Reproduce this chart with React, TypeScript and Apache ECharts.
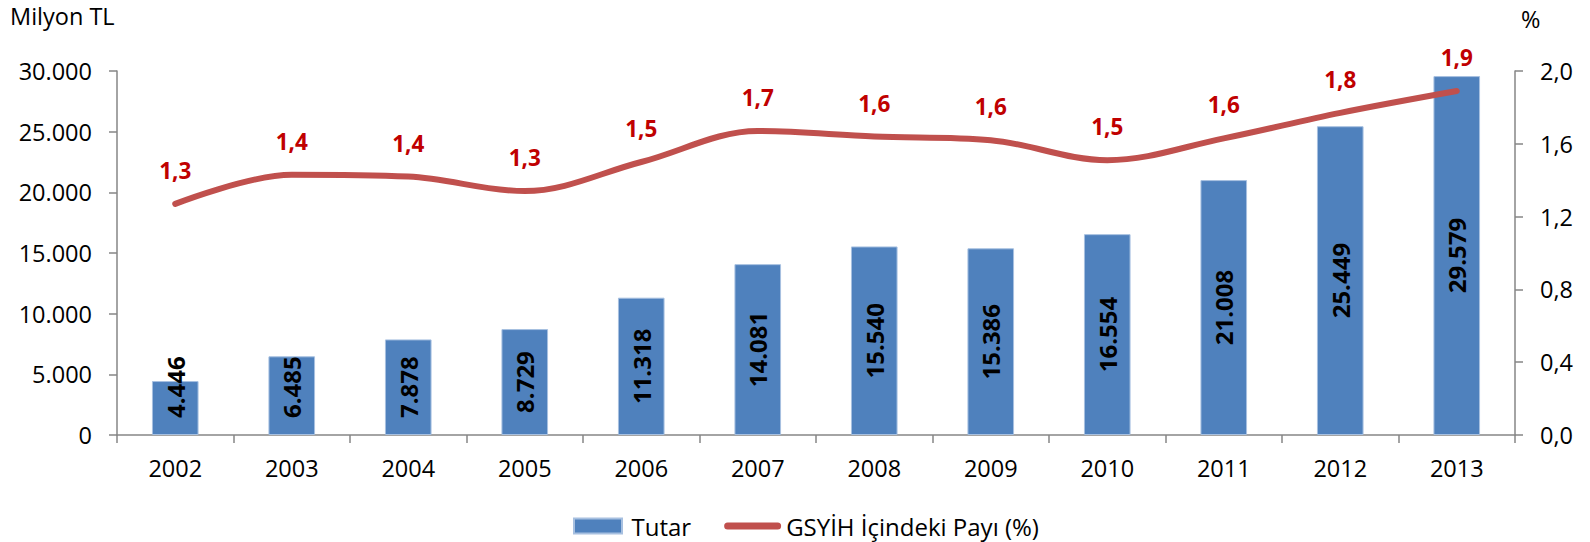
import React, { useEffect, useRef } from "react";
import * as echarts from "echarts";

const years = ["2002", "2003", "2004", "2005", "2006", "2007", "2008", "2009", "2010", "2011", "2012", "2013"];
const tutar = [4446, 6485, 7878, 8729, 11318, 14081, 15540, 15386, 16554, 21008, 25449, 29579];
const pay = [1.27, 1.43, 1.42, 1.34, 1.5, 1.67, 1.64, 1.62, 1.51, 1.63, 1.77, 1.89];

const FONT = "'Open Sans', 'Noto Sans', sans-serif";
const Y_MAX = 30000;
const PLOT_H = 364;
const LABEL_LEN = 66;
const BASE_GAP = 17;

const fmtThousands = (v: number) => String(Math.round(v)).replace(/\B(?=(\d{3})+(?!\d))/g, ".");
const fmtPct = (v: number) => v.toFixed(1).replace(".", ",");

export default function App() {
  const ref = useRef<HTMLDivElement>(null);
  useEffect(() => {
    if (!ref.current) return;
    const chart = echarts.init(ref.current, null, { renderer: "svg" });
    const axisColor = "#868686";
    const barData = tutar.map((v) => {
      const h = (v / Y_MAX) * PLOT_H;
      if (h / 2 < LABEL_LEN / 2 + BASE_GAP) {
        return {
          value: v,
          label: { position: "insideBottom", distance: BASE_GAP, align: "left", verticalAlign: "middle" },
        };
      }
      return { value: v };
    });
    chart.setOption({
      animation: false,
      backgroundColor: "#ffffff",
      textStyle: { fontFamily: FONT },
      grid: { left: 117, right: 75, top: 71, bottom: 107, containLabel: false },
      legend: {
        left: 568,
        top: 509,
        itemWidth: 57,
        itemHeight: 15,
        itemGap: 33,
        textStyle: { fontFamily: FONT, fontSize: 24, color: "#000" },
        data: [
          { name: "Tutar", icon: "path://M0,0 L48,0 L48,15 L0,15 Z" },
          {
            name: "GSYİH İçindeki Payı (%)",
            icon: "path://M3.5,0 L53.5,0 A3.5,3.5 0 0 1 53.5,7 L3.5,7 A3.5,3.5 0 0 1 3.5,0 Z",
            itemStyle: { color: "#C0504D" },
          },
        ],
      },
      graphic: [
        { type: "text", left: 10, top: 4, style: { text: "Milyon TL", font: `23.5px ${FONT}`, fill: "#000" } },
        { type: "text", left: 1521, top: 7, style: { text: "%", font: `23.5px ${FONT}`, fill: "#000" } },
      ],
      xAxis: {
        type: "category",
        data: years,
        boundaryGap: true,
        axisLine: { lineStyle: { color: axisColor, width: 1.5 } },
        axisTick: { show: true, alignWithLabel: false, interval: 0, length: 8, lineStyle: { color: axisColor, width: 1.5 } },
        axisLabel: { color: "#000", fontSize: 23.5, fontFamily: FONT, margin: 21, interval: 0 },
      },
      yAxis: [
        {
          type: "value",
          min: 0,
          max: Y_MAX,
          interval: 5000,
          splitLine: { show: false },
          axisLine: { show: true, lineStyle: { color: axisColor, width: 1.5 } },
          axisTick: { show: true, length: 8, lineStyle: { color: axisColor, width: 1.5 } },
          axisLabel: { color: "#000", fontSize: 23.5, fontFamily: FONT, margin: 25, formatter: fmtThousands },
        },
        {
          type: "value",
          min: 0,
          max: 2,
          interval: 0.4,
          position: "right",
          splitLine: { show: false },
          axisLine: { show: true, lineStyle: { color: axisColor, width: 1.5 } },
          axisTick: { show: true, length: 8, lineStyle: { color: axisColor, width: 1.5 } },
          axisLabel: { color: "#000", fontSize: 23.5, fontFamily: FONT, margin: 25, formatter: fmtPct },
        },
      ],
      series: [
        {
          name: "Tutar",
          type: "bar",
          data: barData,
          barWidth: "40%",
          itemStyle: { color: "#4F81BD", borderColor: "#A7C0E0", borderWidth: 1 },
          label: {
            show: true,
            position: "inside",
            rotate: 90,
            color: "#000",
            fontWeight: "bold",
            fontSize: 24,
            fontFamily: FONT,
            formatter: (p: any) => fmtThousands(p.value),
          },
          z: 2,
        },
        {
          name: "GSYİH İçindeki Payı (%)",
          type: "line",
          yAxisIndex: 1,
          data: pay,
          smooth: 0.35,
          symbol: "circle",
          symbolSize: 2,
          showSymbol: true,
          lineStyle: { color: "#C0504D", width: 6, cap: "round" },
          itemStyle: { color: "#C0504D" },
          label: {
            show: true,
            position: "top",
            distance: 21,
            color: "#C00000",
            fontWeight: "bold",
            fontSize: 22.5,
            fontFamily: FONT,
            formatter: (p: any) => fmtPct(p.value),
          },
          z: 3,
        },
      ],
    });
    return () => chart.dispose();
  }, []);
  return <div ref={ref} style={{ position: "fixed", left: 0, top: 0, width: 1590, height: 542 }} />;
}
